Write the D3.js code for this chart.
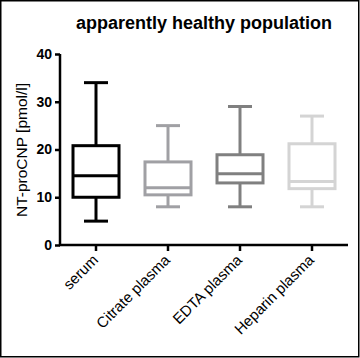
<!DOCTYPE html>
<html><head><meta charset="utf-8">
<script src="https://cdn.jsdelivr.net/npm/d3@7"></script>
<style>body{margin:0;background:#fff}svg{display:block}</style>
</head><body><svg id="c" width="360" height="358"></svg>
<script>
const categories = ["serum", "Citrate plasma", "EDTA plasma", "Heparin plasma"];
const mins    = [5, 8, 8, 8];
const q1s     = [10, 10.5, 13, 11.8];
const medians = [14.5, 12, 14.9, 13.3];
const q3s     = [20.8, 17.4, 18.9, 21.2];
const maxs    = [34, 25, 29, 27];
const colors  = ["#000000", "#a0a0a4", "#808080", "#d4d4d4"];
const yTicks  = [0, 10, 20, 30, 40];
const title = "apparently healthy population";
const yLabel = "NT-proCNP [pmol/l]";

const svg = d3.select("#c");
const font = "Arial, 'Liberation Sans', sans-serif";
svg.append("rect").attr("x",0.75).attr("y",0.75).attr("width",358).attr("height",356)
  .attr("fill","none").attr("stroke","#000").attr("stroke-width",1.5);

const x = d3.scaleBand().domain(categories).range([60,348]).paddingInner(0).paddingOuter(0);
const y = d3.scaleLinear().domain([0,40]).range([245,54]);

const data = categories.map((c,i)=>({c,min:mins[i],q1:q1s[i],med:medians[i],q3:q3s[i],max:maxs[i],col:colors[i]}));
const bw = 46, cw = 22;
const g = svg.append("g");
data.forEach(d=>{
  const cx = x(d.c) + x.bandwidth()/2;
  const gg = g.append("g").attr("stroke",d.col).attr("stroke-width",3).attr("fill","none");
  gg.append("line").attr("x1",cx).attr("x2",cx).attr("y1",y(d.max)).attr("y2",y(d.q3));
  gg.append("line").attr("x1",cx).attr("x2",cx).attr("y1",y(d.q1)).attr("y2",y(d.min));
  gg.append("line").attr("x1",cx-cw/2-1).attr("x2",cx+cw/2+1).attr("y1",y(d.max)).attr("y2",y(d.max));
  gg.append("line").attr("x1",cx-cw/2-1).attr("x2",cx+cw/2+1).attr("y1",y(d.min)).attr("y2",y(d.min));
  gg.append("rect").attr("x",cx-bw/2).attr("width",bw).attr("y",y(d.q3)).attr("height",y(d.q1)-y(d.q3));
  gg.append("line").attr("x1",cx-bw/2).attr("x2",cx+bw/2).attr("y1",y(d.med)).attr("y2",y(d.med));
});

const ya = svg.append("g").attr("transform","translate(60,0)")
  .call(d3.axisLeft(y).tickValues(yTicks).tickSize(5).tickPadding(3).tickFormat(d3.format("d")));
ya.select(".domain").attr("stroke-width",2.5).attr("d","M0,54V246");
ya.selectAll(".tick line").attr("stroke-width",2.5);
ya.selectAll("text").attr("font-family",font).attr("font-size",14).attr("font-weight","bold").attr("fill","#000");

const xa = svg.append("g").attr("transform","translate(0,245)")
  .call(d3.axisBottom(x).tickSize(6).tickPadding(4));
xa.select(".domain").attr("stroke-width",2.5).attr("d","M59,0H348");
xa.selectAll(".tick line").attr("stroke-width",2.5);
xa.selectAll("text").attr("font-family",font).attr("font-size",15).attr("font-weight","normal").attr("fill","#000")
  .attr("text-anchor","end").attr("dy","0").attr("transform","translate(3,16) rotate(-45)").attr("y",0).attr("x",0);

svg.append("text").attr("x",204).attr("y",29).attr("text-anchor","middle")
  .attr("font-family",font).attr("font-size",18).attr("font-weight","bold").text(title);
svg.append("text").attr("transform","translate(27,150) rotate(-90)").attr("text-anchor","middle")
  .attr("font-family",font).attr("font-size",15.5).text(yLabel);
</script></body></html>
